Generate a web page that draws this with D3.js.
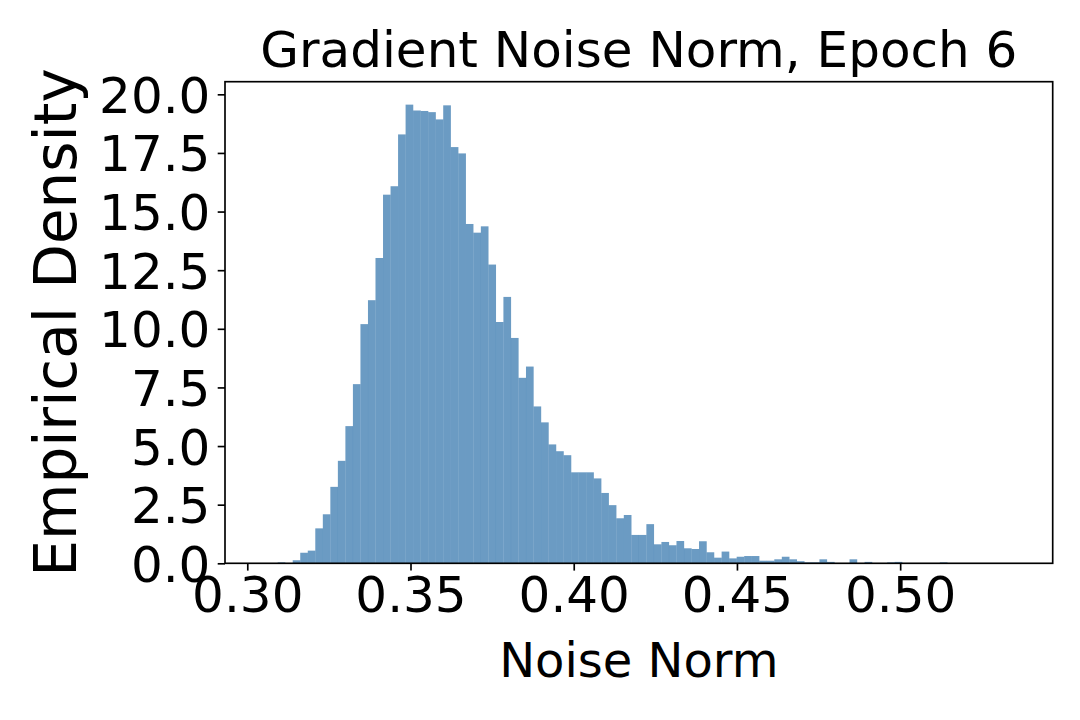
<!DOCTYPE html>
<html>
<head>
<meta charset="utf-8">
<script src="https://cdn.jsdelivr.net/npm/d3@7"></script>
<style>
  html, body { margin: 0; padding: 0; background: #fff; }
  svg { display: block; font-family: "DejaVu Sans", sans-serif; }
</style>
</head>
<body>
<svg id="chart" width="1080" height="720"></svg>
<script>
// ---- data ----
const title = "Gradient Noise Norm, Epoch 6";
const xLabel = "Noise Norm";
const yLabel = "Empirical Density";
const binStart = 0.3047;     // left edge of first bin
const binWidth = 0.002305;   // width of each of the 100 bins
const density = [
  0, 0, 0.04, 0, 0.13, 0.45, 0.54, 1.49, 2.09, 3.26,
  4.37, 5.85, 7.64, 10.20, 11.22, 13.02, 15.72, 16.08, 18.29, 19.56,
  19.31, 19.29, 19.24, 18.93, 19.53, 17.75, 17.48, 14.47, 14.10, 14.37,
  12.74, 10.29, 11.36, 9.61, 7.91, 8.39, 6.69, 6.01, 5.07, 4.78,
  4.61, 3.88, 3.88, 3.88, 3.62, 3.00, 2.48, 1.92, 2.06, 1.21,
  1.21, 1.67, 0.81, 0.91, 0.77, 0.95, 0.64, 0.61, 0.94, 0.47,
  0.24, 0.50, 0.21, 0.28, 0.31, 0.31, 0.11, 0.11, 0.17, 0.28,
  0.17, 0.09, 0.04, 0.04, 0.17, 0.06, 0, 0, 0.17, 0,
  0.06, 0, 0, 0.04, 0.06, 0, 0, 0, 0, 0,
  0.04, 0, 0, 0, 0, 0, 0, 0, 0, 0
];
const xTicks = [0.30, 0.35, 0.40, 0.45, 0.50];
const yTicks = [0.0, 2.5, 5.0, 7.5, 10.0, 12.5, 15.0, 17.5, 20.0];

// ---- layout ----
const plot = { left: 225, right: 1052.7, top: 81.7, bottom: 563.3 };
const svg = d3.select("#chart");

const bins = density.map((d, i) => ({
  x0: binStart + i * binWidth,
  x1: binStart + (i + 1) * binWidth,
  v: d
}));
const dataMin = binStart, dataMax = binStart + density.length * binWidth;
const pad = (dataMax - dataMin) * 0.05;

const x = d3.scaleLinear().domain([dataMin - pad, dataMax + pad]).range([plot.left, plot.right]);
const y = d3.scaleLinear().domain([0, d3.max(density) * 1.05]).range([plot.bottom, plot.top]);

// bars
svg.append("g")
  .selectAll("rect")
  .data(bins.filter(b => b.v > 0))
  .join("rect")
  .attr("x", d => x(d.x0))
  .attr("width", d => x(d.x1) - x(d.x0) + 0.15)
  .attr("y", d => y(d.v))
  .attr("height", d => y(0) - y(d.v))
  .attr("fill", "steelblue")
  .attr("fill-opacity", 0.8);

// axes
const tickLen = 7.3, tickPad = 7.3, fontSize = 50;
const xAxis = d3.axisBottom(x).tickValues(xTicks).tickFormat(d3.format(".2f"))
  .tickSize(tickLen).tickPadding(tickPad);
const yAxis = d3.axisLeft(y).tickValues(yTicks).tickFormat(d3.format(".1f"))
  .tickSize(tickLen).tickPadding(tickPad);

const gx = svg.append("g").attr("transform", `translate(0,${plot.bottom})`).call(xAxis);
const gy = svg.append("g").attr("transform", `translate(${plot.left},0)`).call(yAxis);
[gx, gy].forEach(g => {
  g.select(".domain").remove();
  g.selectAll(".tick line").attr("stroke", "#000").attr("stroke-width", 1.67);
  g.selectAll(".tick text").attr("fill", "#000").attr("font-size", fontSize)
    .attr("font-family", "DejaVu Sans");
});
gx.selectAll(".tick text").attr("dy", null).attr("y", tickLen + tickPad)
  .attr("dominant-baseline", "hanging").attr("dy", "-0.05em");
gy.selectAll(".tick text").attr("dy", "0.36em");

// frame
svg.append("rect")
  .attr("x", plot.left).attr("y", plot.top)
  .attr("width", plot.right - plot.left).attr("height", plot.bottom - plot.top)
  .attr("fill", "none").attr("stroke", "#000").attr("stroke-width", 1.67);

// labels
const cx = (plot.left + plot.right) / 2;
svg.append("text").attr("x", cx).attr("y", 67).attr("text-anchor", "middle")
  .attr("font-size", 50).attr("fill", "#000").text(title);
svg.append("text").attr("x", cx).attr("y", 677).attr("text-anchor", "middle")
  .attr("font-size", 48).attr("fill", "#000").text(xLabel);
svg.append("text")
  .attr("transform", `translate(76,${(plot.top + plot.bottom) / 2}) rotate(-90)`)
  .attr("text-anchor", "middle").attr("font-size", 58).attr("fill", "#000").text(yLabel);
</script>
</body>
</html>
